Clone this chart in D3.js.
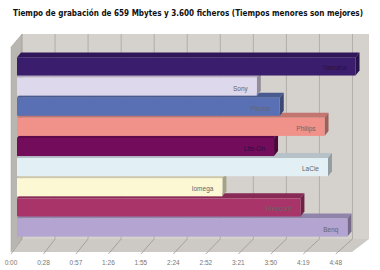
<!DOCTYPE html>
<html>
<head>
<meta charset="utf-8">
<script src="https://cdn.jsdelivr.net/npm/d3@7"></script>
<style>
  body { margin: 0; background: #fff; }
  svg { display: block; font-family: "Liberation Sans", Arial, sans-serif; }
</style>
</head>
<body>
<svg id="chart" width="380" height="270"></svg>
<script>
// data (times in seconds)
const categories = ["Yamaha", "Sony", "Plextor", "Philips", "Lite-On", "LaCie", "Iomega", "Freecom", "Benq"];
const seconds = [295, 209, 229, 268, 224, 271, 179, 247, 288];
const colors = ["#3b1d6e", "#ded8ec", "#5a70b4", "#f0928a", "#740c5c", "#e2f0f6", "#fdf8d4", "#a8346a", "#b3a4d2"];
const tickLabels = ["0:00", "0:28", "0:57", "1:26", "1:55", "2:24", "2:52", "3:21", "3:50", "4:19", "4:48"];
const tickStep = 28.8;
const axisMax = 302.4;

const svg = d3.select("#chart");

// 3d geometry
const front = { x: 11, floor: 252 };
const depth = { x: 11, y: -13 };
const back = { x: front.x + depth.x, floor: front.floor + depth.y, top: 34 };
const barOff = { x: 4, y: -5 };
const barX0 = 17;

const x = d3.scaleLinear().domain([0, axisMax]).range([0, 347]);
// front edge is a bit narrower (perspective)
const xf = x.copy().range([0, 341]);
const y = d3.scaleBand().domain(categories).range([57, 237]).paddingInner(0.1).paddingOuter(0.02);
const tickVals = tickLabels.map((d, i) => i * tickStep);

// title
svg.append("text")
  .attr("x", 188).attr("y", 16)
  .attr("text-anchor", "middle")
  .attr("font-family", "'Liberation Sans Narrow', 'DejaVu Sans Condensed', sans-serif")
  .attr("font-weight", "bold")
  .attr("font-size", 8)
  .attr("textLength", 350)
  .attr("lengthAdjust", "spacingAndGlyphs")
  .attr("fill", "#111")
  .text("Tiempo de grabación de 659 Mbytes y 3.600 ficheros (Tiempos menores son mejores)");

const xMaxB = back.x + x(axisMax);

// back wall
svg.append("rect")
  .attr("x", back.x).attr("y", back.top)
  .attr("width", x(axisMax)).attr("height", back.floor - back.top)
  .attr("fill", "#d5d1cd");

// left wall
svg.append("polygon")
  .attr("points", [[front.x, back.top - depth.y], [back.x, back.top], [back.x, back.floor], [front.x, front.floor]].join(" "))
  .attr("fill", "#b9b5b1").attr("stroke", "#a5a19d").attr("stroke-width", 0.5);

// floor
svg.append("polygon")
  .attr("points", [[front.x, front.floor], [front.x + xf(axisMax), front.floor], [xMaxB, back.floor], [back.x, back.floor]].join(" "))
  .attr("fill", "#cdc9c5");

// gridlines on back wall + floor
svg.append("g").selectAll("line").data(tickVals).join("line")
  .attr("x1", d => back.x + x(d)).attr("x2", d => back.x + x(d))
  .attr("y1", back.top).attr("y2", back.floor)
  .attr("stroke", "#a8a4a0").attr("stroke-width", 0.8);

svg.append("g").selectAll("line").data(tickVals).join("line")
  .attr("x1", d => back.x + x(d)).attr("x2", d => front.x + xf(d))
  .attr("y1", back.floor).attr("y2", front.floor + 2)
  .attr("stroke", "#9a9692").attr("stroke-width", 0.8);

// tick labels
svg.append("g").selectAll("text").data(tickVals).join("text")
  .attr("x", d => front.x + xf(d))
  .attr("y", front.floor + 13)
  .attr("text-anchor", "middle")
  .attr("font-size", 6.5)
  .attr("fill", "#777")
  .text((d, i) => tickLabels[i]);

// bars, bottom one first so upper bars cover the top faces below
const idx = d3.range(categories.length).reverse();
const bars = svg.append("g").selectAll("g").data(idx).join("g");

function shade(c, k) { return d3.color(c).darker(k).formatHex(); }

bars.append("polygon") // top face
  .attr("points", i => {
    const x0 = barX0, x1 = barX0 + x(seconds[i]), t = y(categories[i]);
    return [[x0, t], [x1, t], [x1 + barOff.x, t + barOff.y], [x0 + barOff.x, t + barOff.y]].join(" ");
  })
  .attr("fill", i => shade(colors[i], 0.6));

bars.append("polygon") // side face
  .attr("points", i => {
    const x1 = barX0 + x(seconds[i]), t = y(categories[i]), b = t + y.bandwidth();
    return [[x1, t], [x1 + barOff.x, t + barOff.y], [x1 + barOff.x, b + barOff.y], [x1, b]].join(" ");
  })
  .attr("fill", i => shade(colors[i], 1.2));

bars.append("rect") // front face
  .attr("x", barX0)
  .attr("y", i => y(categories[i]))
  .attr("width", i => x(seconds[i]))
  .attr("height", y.bandwidth())
  .attr("fill", i => colors[i]);

bars.append("text")
  .attr("x", i => barX0 + x(seconds[i]) - 9)
  .attr("y", i => y(categories[i]) + y.bandwidth() / 2 + 4)
  .attr("text-anchor", "end")
  .attr("font-size", 6.5)
  .attr("fill", i => i === 0 || i === 4 ? "#2a1040" : "#666")
  .text(i => categories[i]);
</script>
</body>
</html>
